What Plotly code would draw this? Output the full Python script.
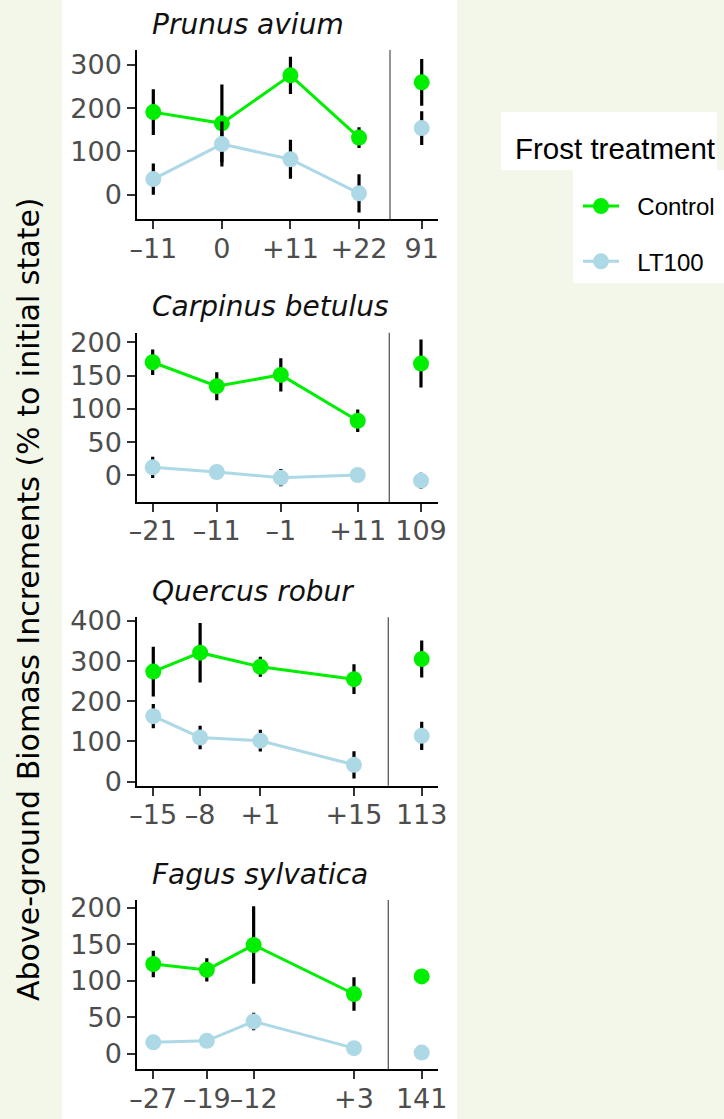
import plotly.graph_objects as go

# ---------------- data ----------------
species = ["Prunus avium", "Carpinus betulus", "Quercus robur", "Fagus sylvatica"]
days = [[-11, 0, 11, 22], [-21, -11, -1, 11], [-15, -8, 1, 15], [-27, -19, -12, 3]]
day_labels = [["–11", "0", "+11", "+22"], ["–21", "–11", "–1", "+11"],
              ["–15", "–8", "+1", "+15"], ["–27", "–19", "–12", "+3"]]
post_day = [91, 109, 113, 141]
post_labels = ["91", "109", "113", "141"]

control = [[191, 165, 276, 132], [170, 134, 151, 82], [274, 321, 286, 255], [123, 115, 149, 82]]
control_err = [[53, 90, 43, 24], [19, 21, 25, 17], [62, 74, 25, 37], [18, 16, 53, 23]]
control_post = [260, 168, 305, 106]
control_post_err = [54, 36, 46, 6]

lt100 = [[36, 117, 82, 3], [12, 5, -3.5, 0.5], [163, 110, 102, 42], [16, 18, 44.5, 8]]
lt100_err = [[36, 52, 45, 44], [16, 6, 13, 6], [30, 29, 27, 34], [6, 6, 12, 6]]
lt100_post = [154, -8, 114, 2]
lt100_post_err = [39, 12, 35, 10]

y_ticks = [[0, 100, 200, 300], [0, 50, 100, 150, 200], [0, 100, 200, 300, 400], [0, 50, 100, 150, 200]]

# ---------------- styling / layout ----------------
W, H = 724, 1119
GREEN = "#00EE00"
LBLUE = "#ADD8E6"
BG = "#F3F7EA"
TICKFONT = dict(family="DejaVu Sans", size=27, color="#4D4D4D")

panel_top = [50, 332.7, 617.3, 900]
panel_bottom = [219.3, 502, 785.7, 1069.3]
y_range = [[-57, 334.7], [-40.1, 214.4], [-10, 409], [-20.9, 210.5]]
x_range = [[-13.57, 26.97], [-23.4, 15.93], [-17.39, 20.13], [-29.39, 8.13]]
vline_px = [390, 389.3, 388.3, 388.3]
post_tick_px = [421.7, 421, 421.7, 421.7]
left_px, right_px = 137.3, 438.0


def px(x):
    return x / W


def py(y):
    return 1 - y / H


fig = go.Figure()
layout = {}
annotations = []
shapes = []

# white panel + legend boxes
shapes.append(dict(type="rect", xref="paper", yref="paper", x0=px(62), x1=px(457), y0=0, y1=1,
                   fillcolor="white", line=dict(width=0), layer="below"))
shapes.append(dict(type="rect", xref="paper", yref="paper", x0=px(501), x1=px(717), y0=py(170), y1=py(112),
                   fillcolor="white", line=dict(width=0), layer="below"))
shapes.append(dict(type="rect", xref="paper", yref="paper", x0=px(573), x1=px(724), y0=py(283), y1=py(170),
                   fillcolor="white", line=dict(width=0), layer="below"))

for i in range(4):
    xa = 2 * i + 1
    xb = 2 * i + 2
    ya = i + 1
    xa_name = "x" if xa == 1 else f"x{xa}"
    xb_name = f"x{xb}"
    ya_name = "y" if ya == 1 else f"y{ya}"

    groups = [("Control", GREEN, control[i], control_err[i], control_post[i], control_post_err[i]),
              ("LT100", LBLUE, lt100[i], lt100_err[i], lt100_post[i], lt100_post_err[i])]
    for name, col, vals, errs, pv, pe in groups:
        fig.add_trace(go.Scatter(
            x=days[i], y=vals, mode="lines+markers", name="\u00a0\u00a0" + name,
            legendgroup=name, showlegend=(i == 0),
            line=dict(color=col, width=3),
            marker=dict(color=col, size=16),
            error_y=dict(type="data", array=errs, visible=True, color="black", thickness=3.2, width=0),
            xaxis=xa_name, yaxis=ya_name, cliponaxis=False,
        ))
        fig.add_trace(go.Scatter(
            x=[post_day[i]], y=[pv], mode="markers", name=name,
            legendgroup=name, showlegend=False,
            marker=dict(color=col, size=16),
            error_y=dict(type="data", array=[pe], visible=True, color="black", thickness=3.2, width=0),
            xaxis=xb_name, yaxis=ya_name, cliponaxis=False,
        ))

    w = right_px - vline_px[i]
    post_range = [post_day[i] - (post_tick_px[i] - vline_px[i]) / w,
                  post_day[i] + (right_px - post_tick_px[i]) / w]

    common_x = dict(showgrid=False, zeroline=False, showline=True, linecolor="black", linewidth=2,
                    ticks="outside", ticklen=8, tickwidth=2, tickcolor="#333333", tickangle=0,
                    ticklabelstandoff=-4,
                    tickfont=TICKFONT, anchor=ya_name, fixedrange=True, automargin=False)
    layout["xaxis" if xa == 1 else f"xaxis{xa}"] = dict(
        common_x, domain=[px(left_px), px(vline_px[i])], range=x_range[i],
        tickmode="array", tickvals=days[i], ticktext=day_labels[i])
    layout[f"xaxis{xb}"] = dict(
        common_x, domain=[px(vline_px[i]), px(right_px)], range=post_range,
        tickmode="array", tickvals=[post_day[i]], ticktext=[post_labels[i]])
    layout["yaxis" if ya == 1 else f"yaxis{ya}"] = dict(
        domain=[py(panel_bottom[i]), py(panel_top[i])], range=y_range[i], anchor=xa_name,
        showgrid=False, zeroline=False, showline=True, linecolor="black", linewidth=2,
        ticks="outside", ticklen=8, tickwidth=2, tickcolor="#333333", automargin=False,
        tickmode="array", tickvals=y_ticks[i], tickfont=TICKFONT, fixedrange=True)

    # separator line between the time series and the later measurement
    shapes.append(dict(type="line", xref=f"{xb_name} domain", yref=f"{ya_name} domain",
                       x0=0, x1=0, y0=0, y1=1, line=dict(color="#5A5A5A", width=1.3)))

    # panel title
    annotations.append(dict(text=f"<i>{species[i]}</i>", xref="paper", yref="paper",
                            x=px(150), y=py(panel_top[i] - 26), xanchor="left", yanchor="middle",
                            showarrow=False, font=dict(family="DejaVu Sans", size=28, color="#111111")))

# y-axis title
annotations.append(dict(text="Above-ground Biomass Increments (% to initial state)", xref="paper", yref="paper",
                        x=px(28), y=py(599), xanchor="center", yanchor="middle", textangle=-90,
                        showarrow=False, font=dict(family="DejaVu Sans", size=30, color="black")))
# legend title
annotations.append(dict(text="Frost treatment", xref="paper", yref="paper",
                        x=px(513), y=py(149), xanchor="left", yanchor="middle",
                        showarrow=False, font=dict(family="Liberation Sans", size=29.5, color="black")))

fig.update_layout(
    width=W, height=H,
    margin=dict(l=0, r=0, t=0, b=0, pad=0, autoexpand=False),
    paper_bgcolor=BG, plot_bgcolor="rgba(0,0,0,0)",
    showlegend=True,
    legend=dict(x=px(578), y=py(184), xanchor="left", yanchor="top",
                bgcolor="rgba(0,0,0,0)", borderwidth=0, tracegroupgap=21,
                font=dict(family="Liberation Sans", size=24, color="black"),
                itemwidth=36),
    annotations=annotations, shapes=shapes,
    **layout,
)

fig.write_html("out.html")
